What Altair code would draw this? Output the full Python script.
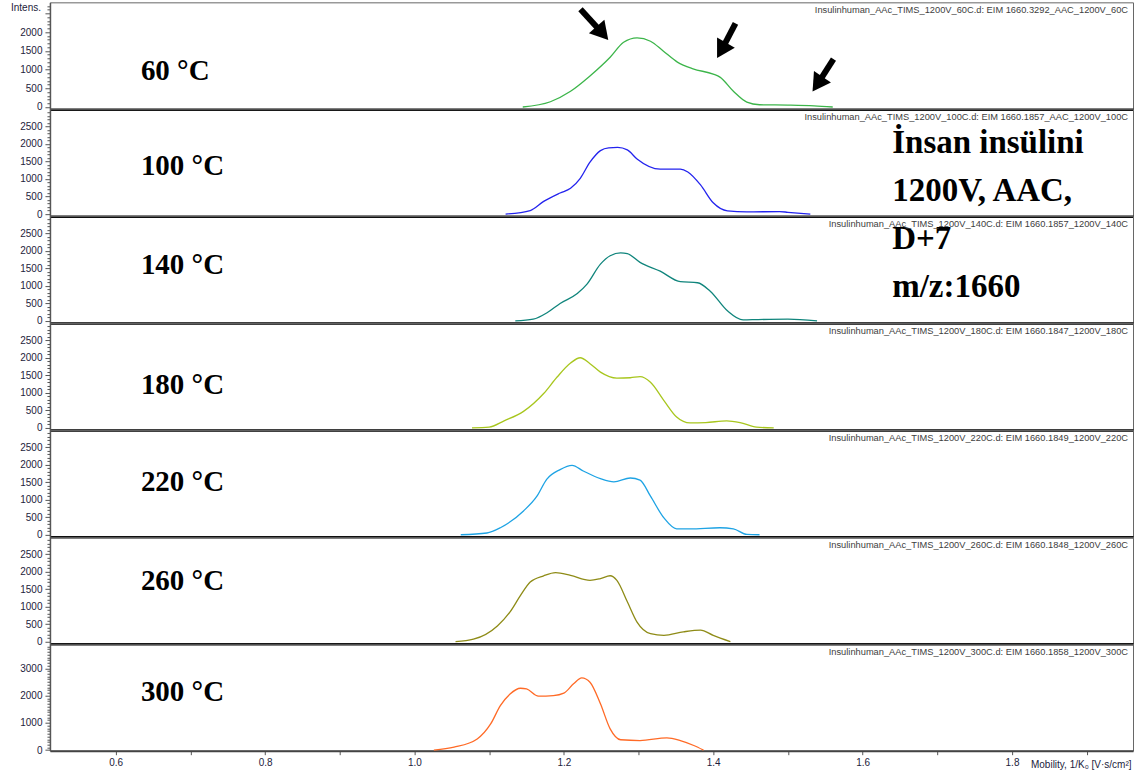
import altair as alt
import pandas as pd

# Temperature labels, trace colours and run titles, top panel to bottom panel
temps = ["60 °C", "100 °C", "140 °C", "180 °C", "220 °C", "260 °C", "300 °C"]
colors = ["#3cb54a", "#2323ee", "#10857c", "#a8c61e", "#1ea3e4", "#8e8b16", "#ff6a26"]
runs = [
    "Insulinhuman_AAc_TIMS_1200V_60C.d: EIM 1660.3292_AAC_1200V_60C",
    "Insulinhuman_AAc_TIMS_1200V_100C.d: EIM 1660.1857_AAC_1200V_100C",
    "Insulinhuman_AAc_TIMS_1200V_140C.d: EIM 1660.1857_1200V_140C",
    "Insulinhuman_AAc_TIMS_1200V_180C.d: EIM 1660.1847_1200V_180C",
    "Insulinhuman_AAc_TIMS_1200V_220C.d: EIM 1660.1849_1200V_220C",
    "Insulinhuman_AAc_TIMS_1200V_260C.d: EIM 1660.1848_1200V_260C",
    "Insulinhuman_AAc_TIMS_1200V_300C.d: EIM 1660.1858_1200V_300C",
]

# Extracted ion mobilograms, m/z 1660 (mobility 1/K0, intensity)
mob_60 = [1.145, 1.182, 1.209, 1.235, 1.262, 1.280, 1.298, 1.316, 1.333, 1.352,
          1.373, 1.400, 1.409, 1.427, 1.445, 1.462, 1.500, 1.535, 1.560]
int_60 = [0, 140, 420, 830, 1330, 1730, 1850, 1760, 1500, 1200,
          1020, 880, 800, 420, 130, 60, 50, 30, 0]

mob_100 = [1.122, 1.155, 1.173, 1.195, 1.209, 1.222, 1.235, 1.249, 1.260, 1.272, 1.285,
           1.298, 1.329, 1.356, 1.366, 1.383, 1.400, 1.419, 1.445, 1.489, 1.500, 1.530]
int_100 = [0, 100, 360, 600, 735, 1020, 1480, 1810, 1890, 1900, 1830,
           1570, 1280, 1280, 1200, 830, 320, 90, 60, 70, 50, 0]

mob_140 = [1.135, 1.159, 1.178, 1.195, 1.218, 1.231, 1.249, 1.262, 1.276, 1.285,
           1.302, 1.329, 1.356, 1.379, 1.396, 1.419, 1.440, 1.460, 1.500, 1.539]
int_140 = [0, 50, 240, 500, 780, 1050, 1620, 1860, 1940, 1920,
           1670, 1420, 1120, 1090, 850, 290, 30, 40, 50, 0]

mob_180 = [1.077, 1.100, 1.120, 1.146, 1.173, 1.191, 1.209, 1.222, 1.235, 1.249, 1.271,
           1.289, 1.302, 1.316, 1.334, 1.351, 1.369, 1.390, 1.418, 1.436, 1.458, 1.481]
int_180 = [0, 20, 200, 470, 980, 1450, 1850, 2000, 1830, 1590, 1420,
           1430, 1460, 1300, 780, 310, 140, 150, 200, 150, 20, 0]

mob_220 = [1.062, 1.097, 1.115, 1.146, 1.164, 1.177, 1.195, 1.211, 1.226, 1.249, 1.267,
           1.289, 1.302, 1.316, 1.334, 1.351, 1.369, 1.409, 1.427, 1.445, 1.462]
int_220 = [0, 50, 200, 680, 1100, 1580, 1860, 1980, 1820, 1600, 1510,
           1620, 1560, 1100, 480, 170, 170, 200, 170, 10, 0]

mob_260 = [1.055, 1.079, 1.111, 1.128, 1.142, 1.155, 1.173, 1.189, 1.209, 1.235, 1.249,
           1.262, 1.271, 1.285, 1.298, 1.316, 1.334, 1.360, 1.383, 1.400, 1.423]
int_260 = [0, 70, 450, 850, 1320, 1700, 1880, 1970, 1890, 1750, 1800,
           1880, 1750, 1140, 560, 230, 180, 280, 330, 180, 0]

mob_300 = [1.026, 1.053, 1.084, 1.102, 1.115, 1.128, 1.142, 1.150, 1.166, 1.186, 1.200,
           1.213, 1.224, 1.235, 1.249, 1.262, 1.276, 1.302, 1.338, 1.356, 1.374, 1.387]
int_300 = [0, 110, 410, 960, 1630, 2060, 2270, 2245, 1980, 2000, 2090,
           2430, 2650, 2490, 1700, 780, 380, 350, 450, 350, 170, 0]

mobility = [mob_60, mob_100, mob_140, mob_180, mob_220, mob_260, mob_300]
intensity = [int_60, int_100, int_140, int_180, int_220, int_260, int_300]

# Intensity range, labelled tick step and highest labelled tick for each panel
y_min = [-60, -60, -60, -60, -60, -60, -20]
y_max = [2800, 2990, 2990, 2990, 2990, 2990, 3900]
label_step = [500, 500, 500, 500, 500, 500, 1000]
label_top = [2000, 2500, 2500, 2500, 2500, 2500, 3000]

# Arrows marking the three conformer features of the 60 °C trace
arrow_tail_mob = [1.2223, 1.4298, 1.5610]
arrow_tail_int = [2615, 2240, 1278]
arrow_head_mob = [1.2517, 1.4111, 1.5396]
arrow_head_int = [1973, 1519, 610]
arrow_angle = [139, 210, 214]

sample_note = "İnsan insülini\n1200V, AAC,\nD+7\nm/z:1660"

W, H = 1084, 107
label_y = [69, 57, 49, 62, 52, 44, 48]
x_scale = alt.Scale(domain=[0.512, 1.962], nice=False, zero=False)
tick_grey = "#555555"
ink = "#1c1c3c"


def y_axis(i):
    step, top = label_step[i], label_top[i]
    major = f"datum.value % {step} === 0"
    shown = f"{major} && datum.value <= {top}"
    return alt.Axis(
        values=list(range(0, int(y_max[i]) - 40, 100)),
        labelExpr=f"{shown} ? format(datum.value, 'd') : ''",
        tickSize={"condition": {"test": major, "value": 5}, "value": 3},
        labelFontSize={"condition": {"test": shown, "value": 10}, "value": 0},
        tickColor=tick_grey, domainColor=tick_grey, domainWidth=1.5,
        labelFont="Liberation Sans", labelColor=ink,
        labelPadding=3, labelOverlap=False, labelFlush=False,
        grid=False, title=None,
    )


def x_axis(last):
    if not last:
        return alt.Axis(labels=False, ticks=False, title=None, grid=False,
                        domainColor="black", domainWidth=2.5)
    return alt.Axis(
        values=[round(0.6 + 0.1 * k, 1) for k in range(14)],
        labelExpr="round(datum.value * 10) % 2 === 0 ? format(datum.value, '.1f') : ''",
        tickSize=4, tickColor=tick_grey, domainColor="#444444", domainWidth=2,
        labelFont="Liberation Sans", labelFontSize=10, labelColor=ink,
        labelPadding=3, labelOverlap=False, labelFlush=False, grid=False,
        title="Mobility, 1/K₀ [V·s/cm²]", titleFont="Liberation Sans",
        titleFontSize=10, titleFontWeight="normal", titleColor=ink,
        titleAnchor="end", titleAlign="right", titleBaseline="alphabetic",
        titleX=W - 2, titleY=17,
    )


def panel(i):
    trace = pd.DataFrame({"mobility": mobility[i], "intensity": intensity[i]})
    y_scale = alt.Scale(domain=[y_min[i], y_max[i]], nice=False, zero=False)
    xa, ya = x_axis(i == 6), y_axis(i)

    line = alt.Chart(trace).mark_line(
        color=colors[i], strokeWidth=1.3, interpolate="monotone"
    ).encode(
        x=alt.X("mobility:Q", scale=x_scale, axis=xa),
        y=alt.Y("intensity:Q", scale=y_scale, axis=ya),
    )

    temp = alt.Chart(pd.DataFrame({"t": [temps[i]]})).mark_text(
        font="Liberation Serif", fontWeight="bold", fontSize=29,
        align="left", baseline="middle", color="black",
    ).encode(x=alt.value(91), y=alt.value(label_y[i]), text="t:N")

    run = alt.Chart(pd.DataFrame({"t": [runs[i]]})).mark_text(
        font="Liberation Sans", fontSize=9.3, align="right",
        baseline="middle", color="#404040",
    ).encode(x=alt.value(W - 5), y=alt.value(8), text="t:N")

    layers = [line, temp, run]

    if i == 0:
        arrows = pd.DataFrame({
            "m0": arrow_tail_mob, "i0": arrow_tail_int,
            "m1": arrow_head_mob, "i1": arrow_head_int, "a": arrow_angle,
        })
        shaft = alt.Chart(arrows).mark_rule(
            color="black", strokeWidth=6, strokeCap="butt"
        ).encode(
            x=alt.X("m0:Q", scale=x_scale, axis=xa),
            y=alt.Y("i0:Q", scale=y_scale, axis=ya),
            x2="m1:Q", y2="i1:Q",
        )
        head = alt.Chart(arrows).mark_point(
            shape="triangle-up", filled=True, color="black", size=420, opacity=1
        ).encode(
            x=alt.X("m1:Q", scale=x_scale, axis=xa),
            y=alt.Y("i1:Q", scale=y_scale, axis=ya),
            angle=alt.Angle("a:Q", scale=None),
        )
        intens = alt.Chart(pd.DataFrame({"t": ["Intens."]})).mark_text(
            font="Liberation Sans", fontSize=10, align="right",
            baseline="middle", color=ink,
        ).encode(x=alt.value(-9), y=alt.value(6), text="t:N")
        layers += [shaft, head, intens]

    if i == 1:
        note = alt.Chart(pd.DataFrame({"t": [sample_note]})).mark_text(
            font="Liberation Serif", fontWeight="bold", fontSize=33,
            align="left", baseline="alphabetic", lineBreak="\n",
            lineHeight=48, color="black",
        ).encode(x=alt.value(843), y=alt.value(44), text="t:N")
        layers.append(note)

    return alt.layer(*layers).properties(width=W, height=H)


chart = alt.vconcat(
    *[panel(i) for i in range(7)], spacing=0, bounds="flush"
).properties(
    padding={"left": 10, "top": 1, "right": 3, "bottom": 0},
    background="white",
).configure_view(
    stroke="#666666", strokeWidth=1
)

chart.save("out.html", embed_options={"renderer": "svg", "actions": False})
